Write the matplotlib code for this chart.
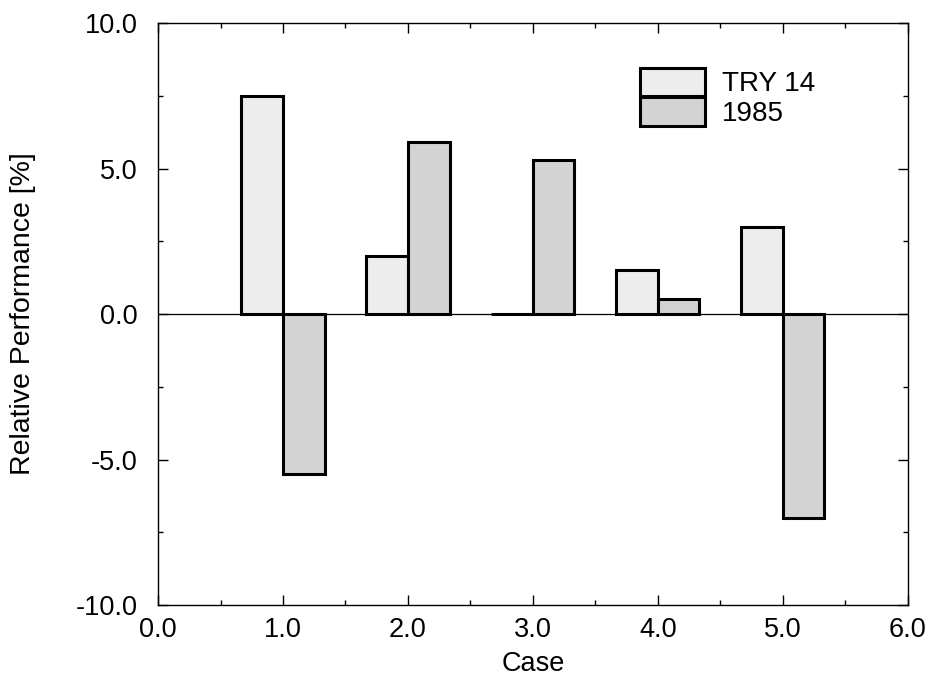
import matplotlib.pyplot as plt
import numpy as np
from matplotlib.ticker import MultipleLocator, FormatStrFormatter

plt.rcParams['font.family'] = ['Liberation Sans', 'DejaVu Sans']

cases = [1.0, 2.0, 3.0, 4.0, 5.0]
try14 = [7.5, 2.0, 0.0, 1.5, 3.0]
y1985 = [-5.5, 5.9, 5.3, 0.5, -7.0]
series_labels = ['TRY 14', '1985']

fig = plt.figure(figsize=(9.3, 6.79), dpi=100)
ax = fig.add_axes([0.170, 0.109, 0.806, 0.857])

width = 0.333
x = np.array(cases)
ax.bar(x, try14, width=-width, align='edge', color='#ededed',
       edgecolor='black', linewidth=2.2, label=series_labels[0], zorder=3)
ax.bar(x, y1985, width=width, align='edge', color='#d3d3d3',
       edgecolor='black', linewidth=2.2, label=series_labels[1], zorder=3)
ax.axhline(0, color='black', linewidth=0.9, zorder=2)

ax.set_xlim(0, 6)
ax.set_ylim(-10, 10)
ax.xaxis.set_major_locator(MultipleLocator(1))
ax.xaxis.set_minor_locator(MultipleLocator(0.5))
ax.yaxis.set_major_locator(MultipleLocator(5))
ax.yaxis.set_minor_locator(MultipleLocator(2.5))
ax.xaxis.set_major_formatter(FormatStrFormatter('%.1f'))
ax.yaxis.set_major_formatter(FormatStrFormatter('%.1f'))
ax.tick_params(which='both', direction='in', top=True, right=True,
               labelsize=19.5, width=1)
ax.tick_params(which='major', length=7.5)
ax.tick_params(which='minor', length=3.7)
ax.tick_params(axis='x', which='major', pad=9)
ax.tick_params(axis='y', which='major', pad=15)
for s in ax.spines.values():
    s.set_linewidth(1)

ax.set_xlabel('Case', fontsize=19.5, labelpad=5.5)
ax.set_ylabel('Relative Performance [%]', fontsize=20.5, labelpad=28)

ax.legend(loc='upper left', bbox_to_anchor=(0.643, 0.923), frameon=False,
          fontsize=20, handlelength=2.34, handleheight=1.19,
          labelspacing=0.0, handletextpad=0.6, borderaxespad=0, borderpad=0)

fig.savefig('out.png', dpi=100)
